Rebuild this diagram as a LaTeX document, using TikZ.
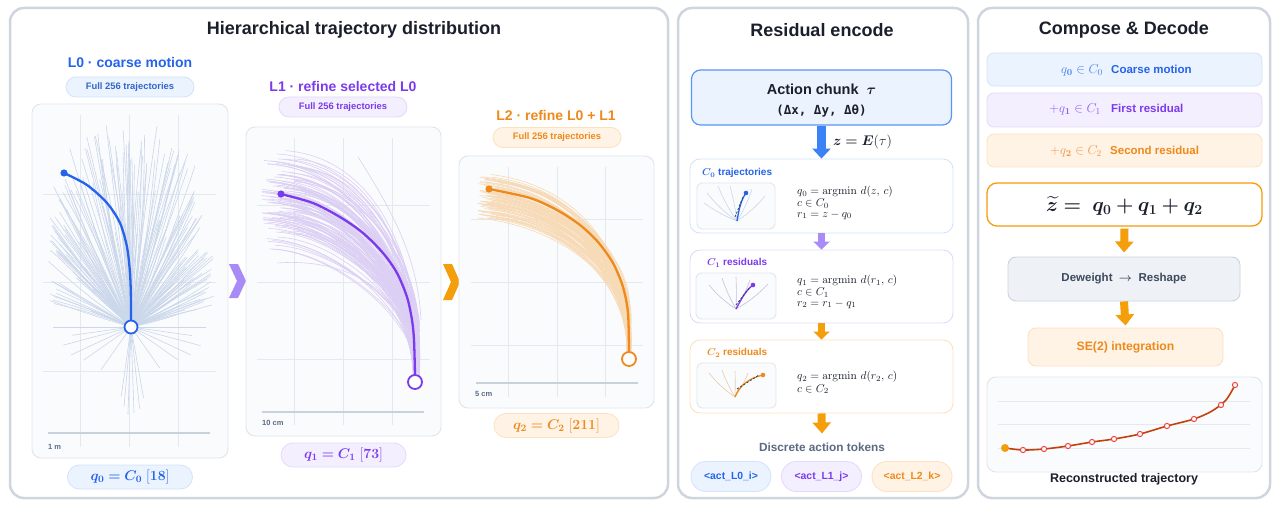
\RequirePackage{fix-cm}
\documentclass[tikz,border=0pt]{standalone}
\usepackage{amsmath,bm}
\usepackage[no-math]{fontspec}
\setmainfont{Liberation Sans}
\newfontfamily\monof{DejaVu Sans Mono}
\usetikzlibrary{arrows.meta,calc}
\definecolor{ink}{HTML}{1A1F2B}
\definecolor{pborder}{HTML}{CFD5DE}
\definecolor{cblue}{HTML}{2563EB}
\definecolor{cpurple}{HTML}{7C3AED}
\definecolor{corange}{HTML}{EE8A1C}
\definecolor{gridc}{HTML}{E4E8EF}
\definecolor{axisc}{HTML}{C9D1DC}
\definecolor{plotbg}{HTML}{FAFBFD}
\definecolor{plotbd}{HTML}{DFE5EE}
\definecolor{fanzero}{HTML}{CBD7EA}
\definecolor{fanone}{HTML}{DCCFF4}
\definecolor{fantwo}{HTML}{F7DAB6}
\definecolor{bluefill}{HTML}{EBF3FE}
\definecolor{blueline}{HTML}{D3E3FB}
\definecolor{purpfill}{HTML}{F3EFFE}
\definecolor{purpline}{HTML}{E3D9FB}
\definecolor{orfill}{HTML}{FFF3E6}
\definecolor{orline}{HTML}{FDE1BF}
\definecolor{slate}{HTML}{5B6B84}
\definecolor{arrowblue}{HTML}{3B82F6}
\definecolor{arrowpurp}{HTML}{A98BF7}
\definecolor{arroworange}{HTML}{F59E0B}
\definecolor{lightblue}{HTML}{4A80EC}
\definecolor{lightpurp}{HTML}{8F5CF0}
\definecolor{lightor}{HTML}{EE9A45}
\definecolor{dwfill}{HTML}{EEF2F7}
\definecolor{dwline}{HTML}{CBD3DF}
\definecolor{dwtext}{HTML}{3F4A5E}
\definecolor{trajc}{HTML}{C2410C}
\definecolor{markc}{HTML}{EF4444}
\definecolor{dashc}{HTML}{334155}
\tikzset{
  panel/.style={draw=pborder,line width=2.5pt,rounded corners=14pt,fill=white,inner sep=0pt},
  ptitle/.style={font=\fontsize{18}{20}\selectfont\bfseries,text=ink,inner sep=0pt},
  lvtitle/.style={font=\fontsize{14}{16}\selectfont\bfseries,inner sep=0pt},
  pill/.style={rounded corners=10pt,line width=0.8pt,inner sep=0pt,minimum width=128pt,minimum height=20pt,font=\fontsize{9.4}{11}\selectfont\bfseries},
  plotbox/.style={draw=plotbd,line width=0.9pt,fill=plotbg,rounded corners=9pt,inner sep=0pt},
  gridl/.style={draw=gridc,line width=0.8pt},
  axisl/.style={draw=axisc,line width=1.1pt},
  scalelbl/.style={font=\fontsize{7.5}{9}\selectfont\bfseries,text=slate,inner sep=0pt},
  fanA/.style={draw=fanzero,line width=0.6pt},
  fanB/.style={draw=fanone,line width=0.6pt},
  fanC/.style={draw=fantwo,line width=0.6pt},
  qpill/.style={rounded corners=12pt,line width=0.8pt,inner sep=0pt,minimum width=125pt,minimum height=24pt,font=\fontsize{14}{16}\selectfont},
  stagebox/.style={rounded corners=10pt,line width=0.9pt,fill=white,inner sep=0pt,minimum width=263pt,minimum height=73pt},
  minibox/.style={draw=plotbd,line width=0.8pt,fill=plotbg,rounded corners=5pt,inner sep=0pt,minimum width=78pt,minimum height=46pt},
  stitle/.style={font=\fontsize{10}{12}\selectfont\bfseries,inner sep=0pt,anchor=west},
  fml/.style={font=\fontsize{11.3}{13}\selectfont,inner sep=0pt,anchor=west,text=ink},
  token/.style={rounded corners=15pt,line width=0.8pt,inner sep=0pt,minimum width=80pt,minimum height=30pt,font=\fontsize{10.4}{12}\selectfont\bfseries},
  rowbox/.style={rounded corners=7pt,line width=0.8pt,inner sep=0pt,minimum width=275pt,minimum height=33pt},
  rowmath/.style={font=\fontsize{13}{15}\selectfont,inner sep=0pt,anchor=east},
  rowlbl/.style={font=\fontsize{11.5}{13}\selectfont\bfseries,inner sep=0pt,anchor=west},
  arrB/.style={draw=arrowblue,line width=9pt,-{Triangle[width=18pt,length=10pt]}},
  arrP/.style={draw=arrowpurp,line width=7pt,-{Triangle[width=16pt,length=8pt]}},
  arrO/.style={draw=arroworange,line width=7pt,-{Triangle[width=16pt,length=8pt]}},
  arrOb/.style={draw=arroworange,line width=8pt,-{Triangle[width=18pt,length=11pt]}},
  fanmA/.style={draw=fanzero,line width=0.6pt},
  fanmB/.style={draw=fanone!80!gray,line width=0.6pt},
  fanmC/.style={draw=fantwo!85!gray,line width=0.6pt},
  dashmark/.style={draw=dashc,line width=0.8pt,dash pattern=on 2.2pt off 1.6pt},
}
\begin{document}
\begin{tikzpicture}[x=1pt,y=-1pt]
\useasboundingbox (0,0) rectangle (1280,508);
\fill[white] (0,0) rectangle (1280,508);
%% panels
\node[panel,minimum width=658pt,minimum height=490pt] (p1) at (339,253) {};
\node[panel,minimum width=290pt,minimum height=490pt] (p2) at (823,253) {};
\node[panel,minimum width=292pt,minimum height=490pt] (p3) at (1124,253) {};
\node[ptitle] (t1) at (354,30) {Hierarchical trajectory distribution};
\node[ptitle] (t2) at (822,30) {Residual encode};
\node[ptitle] (t3) at (1124,30) {Compose \& Decode};

%% ===== Level titles and pills
\node[lvtitle,text=cblue] (l0t) at (130,62) {L0 · coarse motion};
\node[pill,fill=bluefill,draw=blueline,text=cblue!70!slate] (l0p) at (130,87) {Full 256 trajectories};
\node[lvtitle,text=cpurple] (l1t) at (343,86) {L1 · refine selected L0};
\node[pill,fill=purpfill,draw=purpline,text=cpurple] (l1p) at (343,107) {Full 256 trajectories};
\node[lvtitle,text=corange] (l2t) at (556,115) {L2 · refine L0 + L1};
\node[pill,fill=orfill,draw=orline,text=corange] (l2p) at (557,137.5) {Full 256 trajectories};

%% ===== L0 plot
\node[plotbox,minimum width=196pt,minimum height=354pt] (b0) at (130,281) {};
\foreach \gx in {80,129,178} \draw[gridl] (\gx,115) -- (\gx,447);
\foreach \gy in {194,282,371} \draw[gridl] (43,\gy) -- (216,\gy);
\draw[axisl] (48,433) -- (210,433);
\node[scalelbl,anchor=west] (s0) at (48,447) {1 m};
\coordinate (o0) at (131,327);
\pgfmathsetseed{11}
\foreach \i in {1,...,175}{
  \pgfmathsetmacro{\q}{rnd}
  \pgfmathsetmacro{\a}{\q<0.65 ? 90+76*(2*rnd-1) : 90+70*(rnd+rnd-1)}
  \pgfmathsetmacro{\c}{cos(\a)}
  \pgfmathsetmacro{\s}{sin(\a)}
  \pgfmathsetmacro{\U}{2.41*abs(\c)}
  \pgfmathsetmacro{\V}{abs(\s)}
  \pgfmathsetmacro{\lm}{202/((\U*\U*\U*\U+\V*\V*\V*\V)^0.25)}
  \pgfmathsetmacro{\r}{rnd}
  \pgfmathsetmacro{\L}{\lm*(\r<0.2 ? 0.45+1.5*\r : 0.78+0.22*rnd)}
  \pgfmathsetmacro{\b}{8*rnd-4}
  \draw[fanA] (o0) to[bend left=\b] ++({\L*\c},{-\L*\s});
}
\foreach \a/\L in {268/88,272/86,265/80,276/82,262/70,280/72,215/58,325/58,205/66,335/66,235/52,305/50,195/70,345/72,180/78,0/75,188/60,352/62}{
  \draw[fanA] (o0) -- ++({\L*cos(\a)},{-\L*sin(\a)});
}
\draw[cblue,line width=2.3pt,line cap=round] plot[smooth] coordinates {(64,173) (87,185) (107,203) (120,223) (127,247) (130,273) (131,300) (131,321)};
\fill[cblue] (64,173) circle (3.6pt);
\node[circle,draw=cblue,fill=white,line width=1.8pt,minimum size=13pt,inner sep=0pt] (e0) at (o0) {};
\node[qpill,fill=bluefill,draw=blueline,text=cblue] (q0) at (130,477) {$\bm{q_0 = C_0}\ \mathbf{[18]}$};

%% chevrons
\fill[arrowpurp] (229,264) -- (238,264) -- (246,281) -- (238,298) -- (229,298) -- (237,281) -- cycle;
\fill[arroworange] (443,264) -- (452,264) -- (460,282) -- (452,300) -- (443,300) -- (451,282) -- cycle;

%% ===== L1 plot
\node[plotbox,minimum width=195pt,minimum height=309pt] (b1) at (343.5,281.5) {};
\foreach \gx in {294,343,392} \draw[gridl] (\gx,138) -- (\gx,425);
\foreach \gy in {205,282,359} \draw[gridl] (257,\gy) -- (430,\gy);
\draw[axisl] (262,412) -- (424,412);
\node[scalelbl,anchor=west] (s1) at (262,423) {10 cm};
\foreach \i in {1,...,115}{
  \pgfmathsetmacro{\dx}{-20+36*rnd}
  \pgfmathsetmacro{\dy}{-48+55*rnd+50*rnd}
  \pgfmathsetmacro{\ex}{-4+13*rnd}
  \pgfmathsetmacro{\eh}{80*rnd*rnd}
  \draw[fanB] ({281+\dx},{194+\dy}) .. controls ({361+0.6*\dx-0.4*\dy},{199+0.95*\dy}) and ({416+\ex},{292+0.5*\dy}) .. ({415+0.5*\ex},{382-\eh});
}
\draw[fanB] (277,263) .. controls (340,258) and (405,285) .. (414,360);
\draw[fanB] (358,157) .. controls (395,215) and (418,260) .. (421,320);
\draw[cpurple,line width=2.3pt,line cap=round] plot[smooth] coordinates {(281,194) (313,203) (340,217) (363,233) (383,253) (397,273) (407,297) (412,320) (414,340) (415,375)};
\fill[cpurple] (281,194) circle (3.6pt);
\node[circle,draw=cpurple,fill=white,line width=1.8pt,minimum size=14pt,inner sep=0pt] (e1) at (415,382) {};
\node[qpill,fill=purpfill,draw=purpline,text=cpurple] (q1) at (343.5,455) {$\bm{q_1 = C_1}\ \mathbf{[73]}$};

%% ===== L2 plot
\node[plotbox,minimum width=195pt,minimum height=252pt] (b2) at (556.5,282) {};
\foreach \gx in {508,557,605} \draw[gridl] (\gx,167) -- (\gx,397);
\foreach \gy in {219,282,345} \draw[gridl] (471,\gy) -- (643,\gy);
\draw[axisl] (476,383) -- (638,383);
\node[scalelbl,anchor=west] (s2) at (475,394) {5 cm};
\foreach \i in {1,...,95}{
  \pgfmathsetmacro{\dx}{-18+22*rnd}
  \pgfmathsetmacro{\dy}{-18+27*rnd+27*rnd}
  \pgfmathsetmacro{\ex}{-4+8*rnd}
  \pgfmathsetmacro{\eh}{55*rnd*rnd}
  \draw[fanC] ({495+\dx},{189+\dy}) .. controls ({575+0.6*\dx-0.3*\dy},{198+0.95*\dy}) and ({632+\ex},{260+0.6*\dy}) .. ({629+0.5*\ex},{359-\eh});
}
\draw[corange,line width=2.3pt,line cap=round] plot[smooth] coordinates {(489,189) (530,198) (557,210) (580,225) (598,242) (613,263) (623,287) (628,313) (629,352)};
\fill[corange] (489,189) circle (3.6pt);
\node[circle,draw=corange,fill=white,line width=1.8pt,minimum size=14pt,inner sep=0pt] (e2) at (629,359) {};
\node[qpill,fill=orfill,draw=orline,text=corange] (q2) at (556.5,425.5) {$\bm{q_2 = C_2}\ \mathbf{[211]}$};

%% ===== Panel 2: Residual encode
\node[draw=arrowblue!85,fill=bluefill,line width=1.2pt,rounded corners=9pt,minimum width=260pt,minimum height=55pt,inner sep=0pt] (act) at (821.5,97.5) {};
\node[font=\fontsize{14.5}{16}\selectfont\bfseries,text=ink,inner sep=0pt] (actl1) at (821.5,89) {Action chunk\ \ $\bm{\tau}$};
\node[font=\fontsize{12.5}{14}\selectfont\monof\bfseries,text=ink,inner sep=0pt] (actl2) at (821.5,111) {(Δx,~Δy,~Δθ)};

\node[stagebox,draw=blueline,minimum height=74pt] (c0) at (821.5,196) {};
\node[stagebox,draw=purpline] (c1) at (821.5,286.5) {};
\node[stagebox,draw=orline] (c2) at (821.5,376.5) {};
\draw[arrB] (act.south) -- (c0.north);
\node[font=\fontsize{14}{16}\selectfont,text=ink,inner sep=0pt,anchor=west] (zE) at (833,142) {$\bm{z = E}(\tau)$};
\draw[arrP] (c0.south) -- (c1.north);
\draw[arrO] (c1.south) -- (c2.north);

\node[stitle,text=cblue] (c0t) at (702,173) {$\bm{C_0}$ trajectories};
\node[stitle,text=cpurple] (c1t) at (707,263) {$\bm{C_1}$ residuals};
\node[stitle,text=corange] (c2t) at (707,353) {$\bm{C_2}$ residuals};

\node[fml] (f01) at (797,192) {$q_0 = \operatorname{argmin}\, d(z,\, c)$};
\node[fml] (f02) at (797,203.5) {$c \in C_0$};
\node[fml] (f03) at (797,215) {$r_1 = z - q_0$};
\node[fml] (f11) at (797,281) {$q_1 = \operatorname{argmin}\, d(r_1,\, c)$};
\node[fml] (f12) at (797,292.5) {$c \in C_1$};
\node[fml] (f13) at (797,304) {$r_2 = r_1 - q_1$};
\node[fml] (f21) at (797,377) {$q_2 = \operatorname{argmin}\, d(r_2,\, c)$};
\node[fml] (f22) at (797,389) {$c \in C_2$};

% mini plots
\node[minibox] (m0b) at (736,206) {};
\coordinate (m0) at (737,221);
\draw[fanmA] (m0) to[bend left=8] (707,193);
\draw[fanmA] (m0) to[bend left=6] (718,186);
\draw[fanmA] (m0) to[bend right=3] (730,186);
\draw[fanmA] (m0) to[bend right=6] (752,189);
\draw[fanmA] (m0) to[bend right=8] (765,196);
\draw[fanmA] (m0) to[bend left=6] (704,203);
\draw[cblue,line width=1.3pt] (m0) .. controls (739,209) and (741,200) .. (746,193);
\draw[dashmark] (735,217) -- (743,197);
\fill[cblue] (746,193) circle (2.3pt);

\node[minibox,minimum width=80pt] (m1b) at (736,296) {};
\coordinate (m1) at (736,309);
\draw[fanmB] (m1) to[bend left=8] (709,285);
\draw[fanmB] (m1) to[bend left=5] (722,278);
\draw[fanmB] (m1) to[bend right=2] (736,277);
\draw[fanmB] (m1) to[bend right=5] (750,280);
\draw[fanmB] (m1) to[bend right=8] (768,284);
\draw[cpurple,line width=1.3pt] (m1) .. controls (741,300) and (745,291) .. (753,285);
\draw[dashmark] (736,305) -- (750,287);
\fill[cpurple] (753,285) circle (2.3pt);

\node[minibox,minimum width=79pt,minimum height=45pt] (m2b) at (736.5,385.5) {};
\coordinate (m2) at (735,397);
\draw[fanmC] (m2) to[bend left=8] (709,373);
\draw[fanmC] (m2) to[bend left=5] (722,370);
\draw[fanmC] (m2) to[bend right=2] (735,371);
\draw[fanmC] (m2) to[bend right=6] (748,373);
\draw[corange,line width=1.3pt] (m2) .. controls (739,386) and (749,378) .. (763,375);
\draw[dashmark] (737,389) -- (759,375);
\fill[corange] (763,375) circle (2.3pt);

\node[font=\fontsize{11.8}{13}\selectfont\bfseries,text=slate,inner sep=0pt] (dat) at (822,447) {Discrete action tokens};
\draw[arrOb] (c2.south) -- ([yshift=9pt]dat.north);
\node[token,fill=bluefill,draw=blueline,text=cblue] (k0) at (731,476.5) {<act\_L0\_i>};
\node[token,fill=purpfill,draw=purpline,text=cpurple] (k1) at (821.5,476.5) {<act\_L1\_j>};
\node[token,fill=orfill,draw=orline,text=corange] (k2) at (912,476.5) {<act\_L2\_k>};

%% ===== Panel 3: Compose & Decode
\node[rowbox,fill=bluefill,draw=blueline] (r0) at (1124.5,69.5) {};
\node[rowmath,text=lightblue] (r0m) at (1103,70) {$q_{\mathbf 0} \in C_0$};
\node[rowlbl,text=cblue] (r0l) at (1111,69) {Coarse motion};
\node[rowbox,fill=purpfill,draw=purpline,minimum height=34pt] (r1) at (1124.5,110) {};
\node[rowmath,text=lightpurp] (r1m) at (1101,109) {$+q_{\mathbf 1} \in C_1$};
\node[rowlbl,text=cpurple] (r1l) at (1111,108) {First residual};
\node[rowbox,fill=orfill,draw=orline] (r2) at (1124.5,150.5) {};
\node[rowmath,text=lightor] (r2m) at (1102,151) {$+q_{\mathbf 2} \in C_2$};
\node[rowlbl,text=corange] (r2l) at (1110,150) {Second residual};

\node[draw=arroworange!90!orange,fill=white,line width=1.3pt,rounded corners=10pt,minimum width=275pt,minimum height=43pt,inner sep=0pt] (zt) at (1124.5,204.5) {};
\node[font=\fontsize{20}{22}\selectfont,text=ink,inner sep=0pt] (ztl) at (1124.5,206) {$\bm{\widetilde{z} =\ q_0 + q_1 + q_2}$};

\node[fill=dwfill,draw=dwline,line width=0.9pt,rounded corners=8pt,minimum width=232pt,minimum height=44pt,inner sep=0pt,font=\fontsize{11.5}{13}\selectfont\bfseries,text=dwtext] (dw) at (1124,279) {Deweight\ \ $\boldsymbol{\rightarrow}$\ \ Reshape};
\node[fill=orfill,draw=orline,line width=0.9pt,rounded corners=8pt,minimum width=195pt,minimum height=38pt,inner sep=0pt,font=\fontsize{12.2}{14}\selectfont\bfseries,text=corange] (se) at (1125.5,347) {SE(2) integration};
\draw[arrOb] ([yshift=-2pt]zt.south) -- ([yshift=4pt]dw.north);
\draw[arrOb] (dw.south) -- ([yshift=2pt]se.north);

\node[plotbox,minimum width=275pt,minimum height=95pt] (rb) at (1124.5,424.5) {};
\foreach \gy in {401,424,448} \draw[gridl] (998,\gy) -- (1250,\gy);
\draw[trajc,line width=1.6pt] plot[smooth] coordinates {(1005,448) (1023,450) (1044,449) (1068,446) (1092,442) (1114,439) (1140,434) (1167,426) (1194,419) (1212,411) (1226,400) (1235,385)};
\fill[arroworange!90!orange] (1005,448) circle (4pt);
\foreach \px/\py in {1023/450,1044/449,1068/446,1092/442,1114/439,1140/434,1167/426,1194/419,1221/405,1235/385}
  \draw[markc,fill=white,line width=1pt] (\px,\py) circle (2.6pt);
\node[font=\fontsize{12.5}{14}\selectfont\bfseries,text=ink,inner sep=0pt] (rtl) at (1124,479.5) {Reconstructed trajectory};
\end{tikzpicture}
\end{document}
